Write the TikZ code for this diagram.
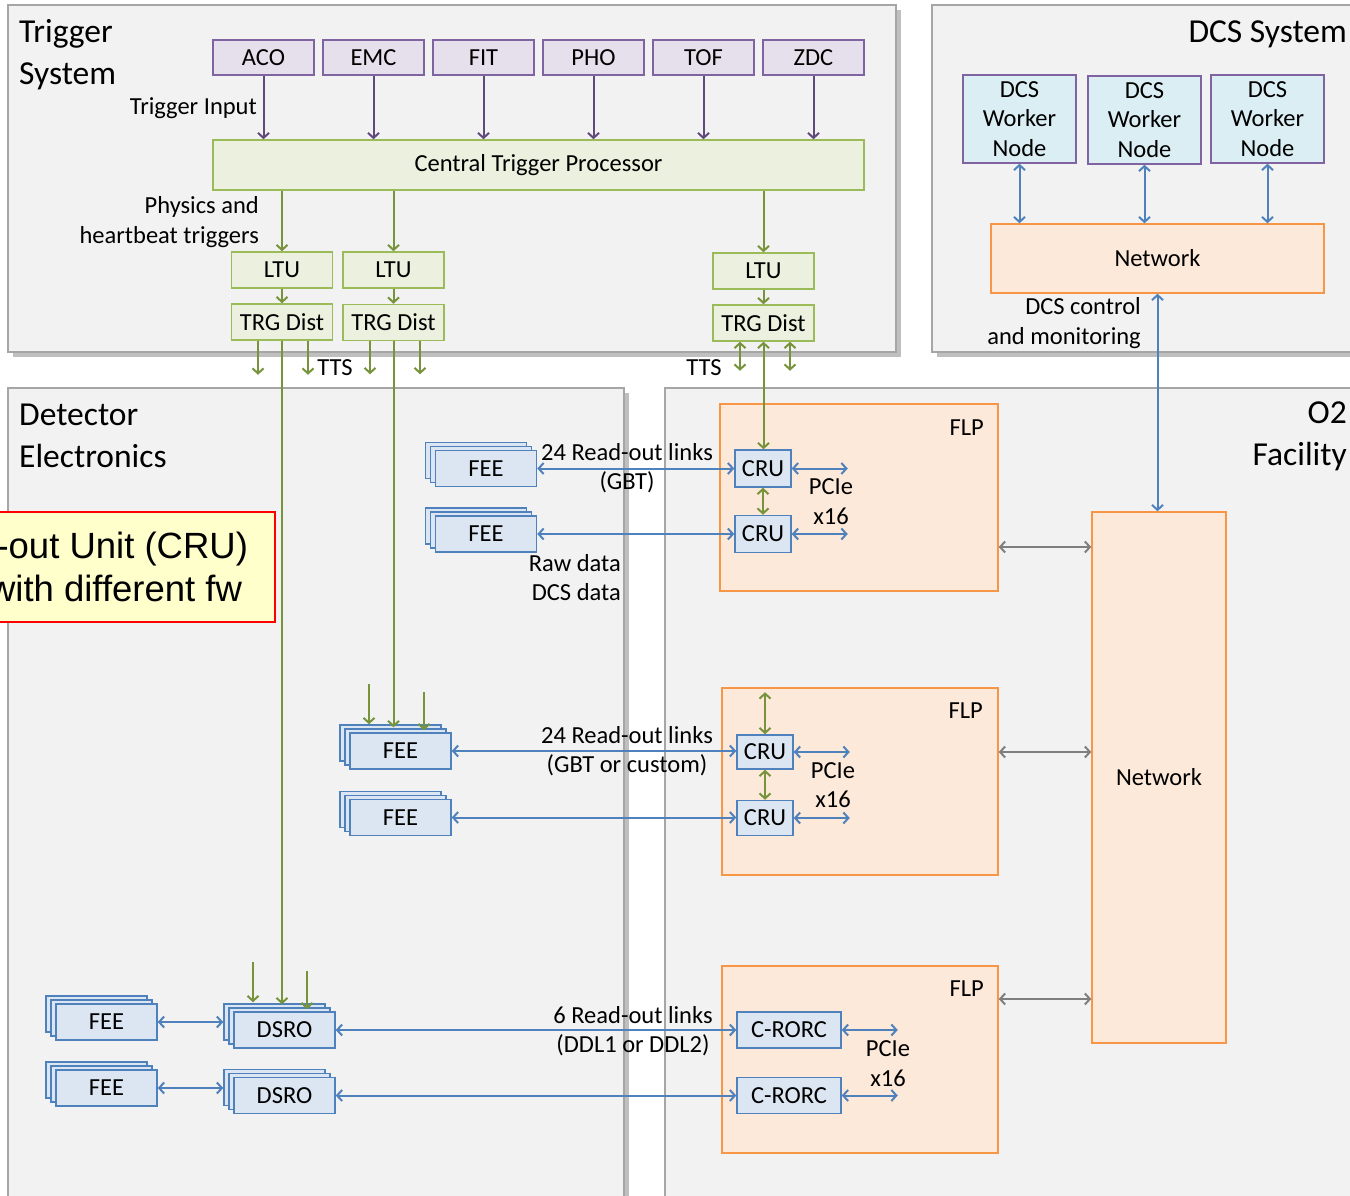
\documentclass[tikz,border=0pt]{standalone}
\usepackage{fontspec}
\setmainfont{Carlito}
\newfontfamily\notefont{Liberation Sans}
\usetikzlibrary{arrows.meta, positioning, calc, shadows}

\definecolor{panelfill}{HTML}{F2F2F2}
\definecolor{panelline}{HTML}{A6A6A6}
\definecolor{trgfill}{HTML}{E5E0EC}
\definecolor{trgline}{HTML}{8064A2}
\definecolor{trgarrow}{HTML}{604A7B}
\definecolor{ctpfill}{HTML}{EBF1DE}
\definecolor{ctpline}{HTML}{9BBB59}
\definecolor{ctparrow}{HTML}{77933C}
\definecolor{feefill}{HTML}{DCE6F2}
\definecolor{feeline}{HTML}{4F81BD}
\definecolor{flpfill}{HTML}{FDE9D9}
\definecolor{flpline}{HTML}{F79646}
\definecolor{dcsfill}{HTML}{DBEEF4}
\definecolor{notefill}{HTML}{FFFFCC}
\definecolor{grayarrow}{HTML}{7F7F7F}

\newcommand{\lblsize}{\fontsize{24.5}{29.5}\selectfont}
\newcommand{\titlesize}{\fontsize{33.5}{42}\selectfont}

\tikzset{
  panel/.style={
    draw=panelline,
    fill=panelfill,
    line width=1.5pt,
    drop shadow={shadow xshift=5pt, shadow yshift=-5pt, opacity=0.25, fill=black},
  },
  basebox/.style={
    line width=1.5pt,
    align=center,
    font=\lblsize,
    inner sep=2pt,
    minimum width=101pt,
    minimum height=36pt,
  },
  trgin/.style={basebox, draw=trgline, fill=trgfill, minimum height=35pt},
  ctpbox/.style={basebox, draw=ctpline, fill=ctpfill},
  feebox/.style={basebox, draw=feeline, fill=feefill},
  feestack/.style={
    feebox,
    copy shadow={shadow xshift=-10pt, shadow yshift=8pt, draw=feeline, fill=feefill, line width=1.5pt},
    copy shadow={shadow xshift=-5pt, shadow yshift=4pt, draw=feeline, fill=feefill, line width=1.5pt},
  },
  flpbox/.style={draw=flpline, fill=flpfill, line width=1.5pt, font=\lblsize, align=center},
  dcsbox/.style={basebox, draw=trgline, fill=dcsfill, minimum width=113pt, minimum height=88pt},
  lbl/.style={font=\lblsize, align=center, inner sep=0pt},
  paneltitle/.style={font=\titlesize, inner sep=0pt},
  parr/.style={-{Straight Barb[length=5pt, width=11pt]}, line width=2pt, draw=trgarrow},
  garr/.style={-{Straight Barb[length=5pt, width=11pt]}, line width=2pt, draw=ctparrow},
  gdarr/.style={{Straight Barb[length=5pt, width=11pt]}-{Straight Barb[length=5pt, width=11pt]}, line width=2pt, draw=ctparrow},
  barr/.style={{Straight Barb[length=5pt, width=11pt]}-{Straight Barb[length=5pt, width=11pt]}, line width=2pt, draw=feeline},
  gyarr/.style={{Straight Barb[length=5pt, width=11pt]}-{Straight Barb[length=5pt, width=11pt]}, line width=2pt, draw=grayarrow},
}

\begin{document}
\begin{tikzpicture}[x=1pt, y=-1pt]
\useasboundingbox (0,0) rectangle (1350,1196);

% --- Panels ---
\node[panel, minimum width=888pt, minimum height=347pt] (trgsys) at (452,178.5) {};
\node[panel, minimum width=438pt, minimum height=347pt] (dcssys) at (1151,178.5) {};
\node[panel, minimum width=616pt, minimum height=832pt] (detel) at (316,804) {};
\node[panel, minimum width=705pt, minimum height=832pt] (otwo) at (1017.5,804) {};

% --- Trigger system ---
\node[paneltitle, anchor=west, align=left] (trgtitle) at (19,55) {Trigger\\System};
\foreach \name [count=\i] in {ACO,EMC,FIT,PHO,TOF,ZDC}
  \node[trgin] (in\i) at (153.5+110*\i, 57.5) {\name};
\node[ctpbox, minimum width=651pt, minimum height=50pt] (ctp) at (538.5,165) {Central Trigger Processor};
\node[lbl, anchor=east] (trginlbl) at (257,108) {Trigger Input};
\node[lbl, anchor=east, align=right] (physlbl) at (259,222) {Physics and\\heartbeat triggers};

\node[ctpbox] (ltuA) at (282,270) {LTU};
\node[ctpbox] (ltuB) at (393.5,270) {LTU};
\node[ctpbox] (ltuC) at (763.5,271) {LTU};
\node[ctpbox] (distA) at (282,322) {TRG Dist};
\node[ctpbox] (distB) at (393.5,322.5) {TRG Dist};
\node[ctpbox] (distC) at (763.5,323) {TRG Dist};
\node[lbl] (ttsA) at (335,368) {TTS};
\node[lbl] (ttsC) at (704,368) {TTS};

% --- DCS system ---
\node[paneltitle, anchor=east] (dcstitle) at (1347,34) {DCS System};
\node[dcsbox] (wrkA) at (1019.5,119) {DCS\\Worker\\Node};
\node[dcsbox] (wrkB) at (1144.5,120) {DCS\\Worker\\Node};
\node[dcsbox] (wrkC) at (1267.5,119) {DCS\\Worker\\Node};
\node[flpbox, minimum width=333pt, minimum height=69pt] (netD) at (1157.5,258.5) {Network};
\node[lbl, anchor=east, align=right] (dcslbl) at (1141,323) {DCS control\\and monitoring};

% --- Detector electronics ---
\node[paneltitle, anchor=west, align=left] (dettitle) at (19,436) {Detector\\Electronics};
\node[draw=red, fill=notefill, line width=2pt, anchor=east, align=right, inner xsep=27pt,
  minimum height=110pt, font=\notefont\fontsize{36.5}{43}\selectfont] (crunote) at (276,567)
  {-out Unit (CRU)\\with different fw\hspace*{6pt}};

\node[feestack] (feeA) at (486,468.5) {FEE};
\node[feestack] (feeB) at (486,534) {FEE};
\node[feestack] (feeC) at (400.5,751) {FEE};
\node[feestack] (feeD) at (400.5,817.5) {FEE};
\node[feestack] (feeE) at (106.5,1022) {FEE};
\node[feestack] (feeF) at (106.5,1088) {FEE};
\node[feestack] (dsroA) at (284.5,1030) {DSRO};
\node[feestack] (dsroB) at (284.5,1095.5) {DSRO};

% --- O2 facility ---
\node[paneltitle, anchor=east, align=right] (o2title) at (1347,436) {O2\\Facility};
\node[flpbox, minimum width=278pt, minimum height=187pt] (flpA) at (859,497.5) {};
\node[flpbox, minimum width=276pt, minimum height=187pt] (flpB) at (860,781.5) {};
\node[flpbox, minimum width=276pt, minimum height=187pt] (flpC) at (860,1059.5) {};
\node[lbl] (flpAlbl) at ($(flpA.north east)+(-32,24)$) {FLP};
\node[lbl] (flpBlbl) at ($(flpB.north east)+(-33,23)$) {FLP};
\node[lbl] (flpClbl) at ($(flpC.north east)+(-32,23)$) {FLP};
\node[flpbox, minimum width=134pt, minimum height=531pt] (netO) at (1159,777.5) {Network};

\node[feebox, minimum width=56pt, minimum height=37pt] (cruA) at (763,468.5) {CRU};
\node[feebox, minimum width=56pt, minimum height=37pt] (cruB) at (763,534) {CRU};
\node[feebox, minimum width=56pt, minimum height=34pt] (cruC) at (765,752) {CRU};
\node[feebox, minimum width=56pt, minimum height=35pt] (cruD) at (765,818) {CRU};
\node[feebox, minimum width=104pt] (crA) at (789,1030) {C-RORC};
\node[feebox, minimum width=104pt] (crB) at (789,1095.5) {C-RORC};

\node[lbl] (pcieA) at (831,501.5) {PCIe\\x16};
\node[lbl] (pcieB) at (833,785) {PCIe\\x16};
\node[lbl] (pcieC) at (888,1063.5) {PCIe\\x16};

% --- Link labels ---
\node[lbl] (linkA) at (627,468) {24 Read-out links\\(GBT)};
\node[lbl, anchor=east, align=right] (rawlbl) at (621,577.5) {Raw data\\DCS data};
\node[lbl] (linkB) at (627,751) {24 Read-out links\\(GBT or custom)};
\node[lbl] (linkC) at (633,1031) {6 Read-out links\\(DDL1 or DDL2)};

% --- Arrows: trigger inputs ---
\foreach \i in {1,...,6}
  \draw[parr] (in\i.south) -- (in\i.south |- ctp.north);

% --- Arrows: trigger distribution ---
\foreach \u in {A,B,C} {
  \draw[garr] (ctp.south -| ltu\u.north) -- (ltu\u.north);
  \draw[garr] (ltu\u.south) -- (dist\u.north);
}
\draw[garr] ([xshift=-24pt]distA.south) -- ++(0,34);
\draw[garr] ([xshift=26pt]distA.south) -- ++(0,34);
\draw[garr] ([xshift=-23.5pt]distB.south) -- ++(0,33);
\draw[garr] ([xshift=26.5pt]distB.south) -- ++(0,33);
\draw[gdarr] ([xshift=-23.5pt]distC.south) -- ++(0,29);
\draw[gdarr] ([xshift=26.5pt]distC.south) -- ++(0,29);

\draw[garr] (distA.south) -- ($(distA.south |- dsroA.north)+(0,-7)$);
\draw[garr] (distB.south) -- ($(distB.south |- feeC.north)+(0,-5)$);
\draw[gdarr] (distC.south) -- (distC.south |- cruA.north);

\draw[garr] ($(feeC.north)+(-31.5,-48)$) -- ($(feeC.north)+(-31.5,-8)$);
\draw[garr] ($(feeC.north)+(23.5,-40)$) -- ($(feeC.north)+(23.5,-2)$);
\draw[garr] ($(dsroA.north)+(-31.5,-49)$) -- ($(dsroA.north)+(-31.5,-9)$);
\draw[garr] ($(dsroA.north)+(22.5,-40)$) -- ($(dsroA.north)+(22.5,-2)$);

\draw[gdarr] (cruA.south) -- (cruB.north);
\draw[gdarr] (cruC.south) -- (cruD.north);
\draw[gdarr] (cruC.north) -- ++(0,-42);

% --- Arrows: read-out links ---
\draw[barr] (feeA.east) -- (cruA.west);
\draw[barr] (feeB.east) -- (cruB.west);
\draw[barr] (feeC.east) -- (feeC.east -| cruC.west);
\draw[barr] (feeD.east) -- (feeD.east -| cruD.west);
\draw[barr] (feeE.east) -- ($(feeE.east -| dsroA.west)+(-10,0)$);
\draw[barr] (feeF.east) -- ($(feeF.east -| dsroB.west)+(-10,0)$);
\draw[barr] (dsroA.east) -- (crA.west);
\draw[barr] (dsroB.east) -- (crB.west);
\foreach \c in {cruA,cruB,cruC,cruD,crA,crB}
  \draw[barr] (\c.east) -- ++(56,0);

% --- Arrows: DCS and network ---
\foreach \w in {wrkA,wrkB,wrkC}
  \draw[barr] (\w.south) -- (\w.south |- netD.north);
\draw[barr] (netD.south) -- (netD.south |- netO.north);
\draw[gyarr] ($(flpA.east)+(0,49.5)$) -- ($(flpA.east -| netO.west)+(0,49.5)$);
\draw[gyarr] ($(flpB.east)+(0,-29.5)$) -- ($(flpB.east -| netO.west)+(0,-29.5)$);
\draw[gyarr] ($(flpC.east)+(0,-60.5)$) -- ($(flpC.east -| netO.west)+(0,-60.5)$);

\end{tikzpicture}
\end{document}
